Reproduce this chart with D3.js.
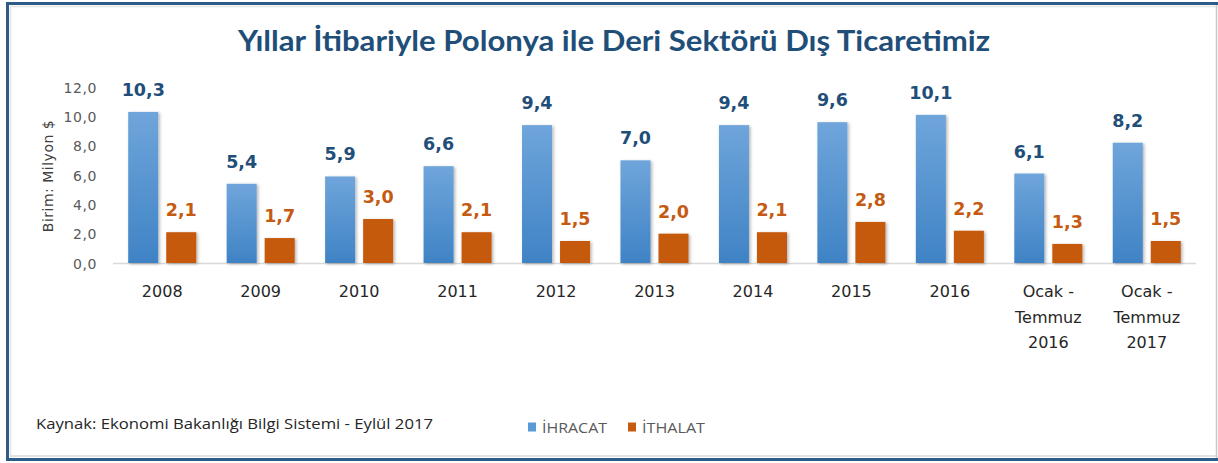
<!DOCTYPE html>
<html>
<head>
<meta charset="utf-8">
<script src="https://cdn.jsdelivr.net/npm/d3@7/dist/d3.min.js"></script>
<style>
  html, body { margin: 0; padding: 0; background: #ffffff; }
  svg { display: block; }
</style>
</head>
<body>
<svg id="chart" width="1218" height="463"></svg>
<script>
// ---- Data ----
const categories = ["2008", "2009", "2010", "2011", "2012", "2013", "2014", "2015", "2016", "Ocak - Temmuz 2016", "Ocak - Temmuz 2017"];
const categoryLines = [["2008"], ["2009"], ["2010"], ["2011"], ["2012"], ["2013"], ["2014"], ["2015"], ["2016"], ["Ocak -", "Temmuz", "2016"], ["Ocak -", "Temmuz", "2017"]];
const ihracat = [10.3, 5.4, 5.9, 6.6, 9.4, 7.0, 9.4, 9.6, 10.1, 6.1, 8.2];
const ithalat = [2.1, 1.7, 3.0, 2.1, 1.5, 2.0, 2.1, 2.8, 2.2, 1.3, 1.5];
const seriesNames = ["İHRACAT", "İTHALAT"];
const yTicks = [0, 2, 4, 6, 8, 10, 12];
const titleText = "Yıllar İtibariyle Polonya ile Deri Sektörü Dış Ticaretimiz";
const yAxisTitle = "Birim: Milyon $";
const sourceText = "Kaynak: Ekonomi Bakanlığı Bilgi Sistemi - Eylül 2017";

const svg = d3.select("#chart");
const W = 1218, H = 463;
const fmt = v => d3.format(".1f")(v).replace(".", ",");

const defs = svg.append("defs");
const grad = defs.append("linearGradient").attr("id", "blueGrad")
  .attr("x1", 0).attr("y1", 0).attr("x2", 0).attr("y2", 1);
grad.append("stop").attr("offset", "0%").attr("stop-color", "#6fa5db");
grad.append("stop").attr("offset", "100%").attr("stop-color", "#3f83c5");
const sh = defs.append("filter").attr("id", "shadow")
  .attr("x", "-20%").attr("y", "-20%").attr("width", "150%").attr("height", "140%");
sh.append("feDropShadow").attr("dx", 1.5).attr("dy", 1).attr("stdDeviation", 1.5)
  .attr("flood-color", "#000").attr("flood-opacity", 0.3);

// background + frame
svg.append("rect").attr("width", W).attr("height", H).attr("fill", "#fff");
svg.append("line").attr("x1", 1216.5).attr("x2", 1216.5).attr("y1", 4).attr("y2", 458).attr("stroke", "#c8c8c8").attr("stroke-width", 1.5);
svg.append("line").attr("x1", 10).attr("x2", 1216).attr("y1", 6.5).attr("y2", 6.5).attr("stroke", "#e4e4e4").attr("stroke-width", 1.5);
svg.append("line").attr("x1", 10.5).attr("x2", 10.5).attr("y1", 6).attr("y2", 457).attr("stroke", "#e4e4e4").attr("stroke-width", 1.5);
svg.append("line").attr("x1", 10).attr("x2", 1216).attr("y1", 456).attr("y2", 456).attr("stroke", "#d8d8d8").attr("stroke-width", 1.5);
svg.append("path")
  .attr("d", "M1218,3.5 L7.5,3.5 L7.5,459.5 L1218,459.5")
  .attr("fill", "none").attr("stroke", "#2f5b88").attr("stroke-width", 3);

// title
svg.append("text").attr("x", 614).attr("y", 51)
  .attr("text-anchor", "middle")
  .attr("font-family", "Lato, 'Open Sans', sans-serif")
  .attr("font-weight", 700).attr("font-size", 28)
  .attr("fill", "#1f4e79")
  .attr("textLength", 752).attr("lengthAdjust", "spacingAndGlyphs")
  .text(titleText);

// scales
const x = d3.scaleBand().domain(categories).range([113, 1196]).paddingInner(0).paddingOuter(0);
const xs = d3.scaleBand().domain(seriesNames).range([0, x.bandwidth()]).paddingInner(0.21).paddingOuter(0.4);
const y = d3.scaleLinear().domain([0, 12]).range([263, 87]);

// y axis labels (no line)
const yAxis = d3.axisLeft(y).tickValues(yTicks).tickFormat(fmt).tickSize(0).tickPadding(0);
const gy = svg.append("g").attr("transform", "translate(97,0)").call(yAxis);
gy.select(".domain").remove();
gy.selectAll("text").attr("font-family", "'DejaVu Sans', sans-serif").attr("font-size", 14)
  .attr("letter-spacing", 0.6).attr("fill", "#595959").attr("dy", "0.36em");

// y axis title
svg.append("text")
  .attr("transform", "translate(53,176) rotate(-90)")
  .attr("text-anchor", "middle")
  .attr("font-family", "'DejaVu Sans', sans-serif").attr("font-size", 14)
  .attr("letter-spacing", 0.5)
  .attr("fill", "#404040")
  .text(yAxisTitle);

// baseline
svg.append("line").attr("x1", 113).attr("x2", 1196).attr("y1", y(0) + 0.5).attr("y2", y(0) + 0.5)
  .attr("stroke", "#d9d9d9").attr("stroke-width", 1.5);

const data = categories.map((c, i) => ({ c, vals: [ihracat[i], ithalat[i]] }));
const colors = ["url(#blueGrad)", "#c55a11"];
const labelColors = ["#1f4e79", "#c55a11"];

const groups = svg.append("g").selectAll("g").data(data).join("g")
  .attr("transform", d => `translate(${x(d.c)},0)`);

seriesNames.forEach((s, si) => {
  groups.append("rect")
    .attr("x", xs(s)).attr("width", xs.bandwidth())
    .attr("y", d => y(d.vals[si]))
    .attr("height", d => y(0) - y(d.vals[si]))
    .attr("fill", colors[si])
    .attr("filter", "url(#shadow)");
  groups.append("text")
    .attr("x", xs(s) + xs.bandwidth() / 2)
    .attr("y", d => y(d.vals[si]) - 16)
    .attr("text-anchor", "middle")
    .attr("font-family", "'DejaVu Sans', sans-serif").attr("font-weight", 700).attr("font-size", 17.5)
    .attr("fill", labelColors[si])
    .text(d => fmt(d.vals[si]));
});

// x labels
const xl = svg.append("g").selectAll("text").data(categories).join("text")
  .attr("x", d => x(d) + x.bandwidth() / 2)
  .attr("y", 297)
  .attr("text-anchor", "middle")
  .attr("font-family", "'DejaVu Sans', sans-serif").attr("font-size", 16)
  .attr("fill", "#262626");
xl.each(function(d, i) {
  const t = d3.select(this);
  categoryLines[i].forEach((ln, li) => {
    t.append("tspan").attr("x", x(d) + x.bandwidth() / 2).attr("dy", li === 0 ? 0 : 25.5).text(ln);
  });
});

// source
svg.append("text").attr("x", 36).attr("y", 429)
  .attr("font-family", "'Open Sans', sans-serif").attr("font-size", 15)
  .attr("fill", "#262626")
  .attr("textLength", 397).attr("lengthAdjust", "spacingAndGlyphs")
  .text(sourceText);

// legend
const legendX = [528, 628];
const legendTextW = [65, 63];
const legendFill = ["#5b9bd5", "#c55a11"];
seriesNames.forEach((s, i) => {
  svg.append("rect").attr("x", legendX[i]).attr("y", 422.5).attr("width", 8).attr("height", 9).attr("fill", legendFill[i]);
  svg.append("text").attr("x", legendX[i] + 14).attr("y", 432.5)
    .attr("font-family", "'Open Sans', sans-serif").attr("font-size", 14)
    .attr("fill", "#595959")
    .attr("textLength", legendTextW[i]).attr("lengthAdjust", "spacingAndGlyphs")
    .text(s);
});
</script>
</body>
</html>
